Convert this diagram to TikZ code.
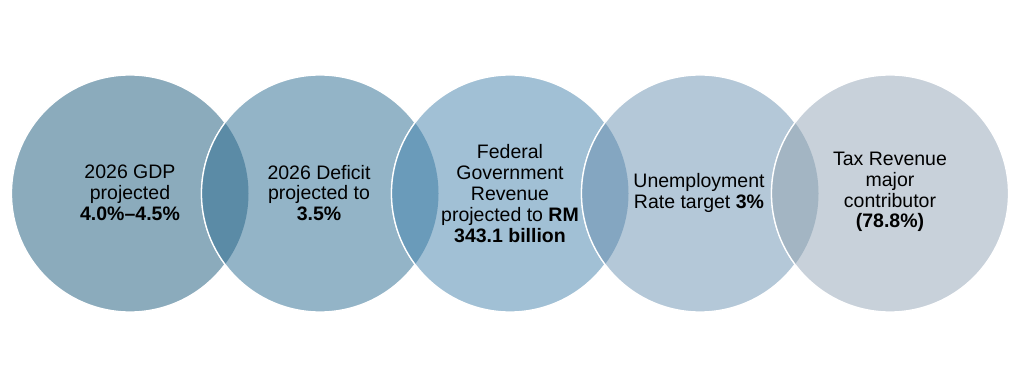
\documentclass[tikz,border=0pt]{standalone}
\usepackage{fontspec}
\setmainfont{Liberation Sans}
\definecolor{cA}{HTML}{8BABBC}
\definecolor{cB}{HTML}{93B4C7}
\definecolor{cC}{HTML}{A1C0D5}
\definecolor{cD}{HTML}{B4C8D8}
\definecolor{cE}{HTML}{C8D1DA}
\definecolor{lAB}{HTML}{5B8BA6}
\definecolor{lBC}{HTML}{6A9BBA}
\definecolor{lCD}{HTML}{84A6C1}
\definecolor{lDE}{HTML}{A3B5C3}
\tikzset{
  txt/.style={align=center,text=black,font=\fontsize{19.5}{20.8}\selectfont,inner sep=0pt},
  ring/.style={draw=white,line width=1.3pt}
}
\begin{document}
\begin{tikzpicture}[x=1pt,y=-1pt]
\useasboundingbox (0,0) rectangle (1026,387);
\fill[white] (0,0) rectangle (1026,387);
% circles
\foreach \cx/\col in {130/cA,320/cB,510/cC,700/cD,890/cE}{
  \fill[\col,ring] (\cx,193.5) circle[radius=118.5pt];
}
% lenses
\foreach \ca/\cb/\col in {130/320/lAB,320/510/lBC,510/700/lCD,700/890/lDE}{
  \begin{scope}
    \clip (\ca,193.5) circle[radius=118.5pt];
    \fill[\col] (\cb,193.5) circle[radius=118.5pt];
    \draw[ring] (\cb,193.5) circle[radius=118.5pt];
  \end{scope}
}
\node[txt] (t1) at (130,193) {2026 GDP\\projected\\\textbf{4.0\%–4.5\%}};
\node[txt] (t2) at (319,193) {2026 Deficit\\projected to\\\textbf{3.5\%}};
\node[txt] (t3) at (510,193.5) {Federal\\Government\\Revenue\\projected to \textbf{RM}\\\textbf{343.1 billion}};
\node[txt] (t4) at (699,193) {Unemployment\\Rate target \textbf{3\%}};
\node[txt] (t5) at (890,192) {Tax Revenue\\major\\contributor\\\textbf{(78.8\%)}};
\end{tikzpicture}
\end{document}
